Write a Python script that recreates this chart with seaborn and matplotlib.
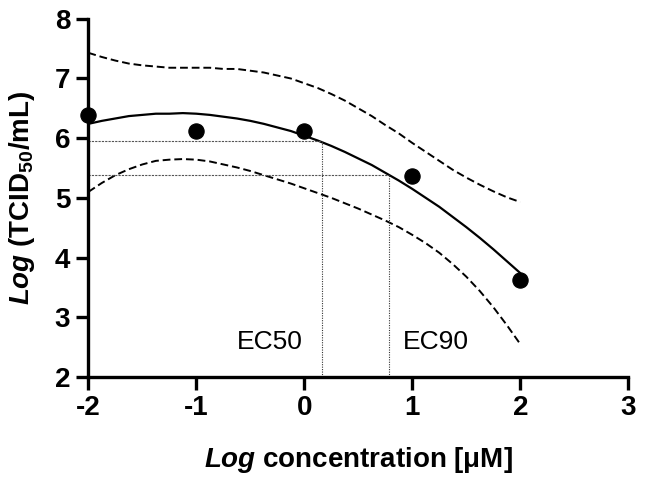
import pandas as pd
import seaborn as sns
import matplotlib
matplotlib.use('Agg')
import matplotlib.pyplot as plt

# measured points
conc = [-2, -1, 0, 1, 2]
titer = [6.38, 6.12, 6.12, 5.37, 3.62]

# fitted curve and confidence band
curve_x = [-2, -1.875, -1.75, -1.625, -1.5, -1.375, -1.25, -1.125, -1,
           -0.875, -0.75, -0.625, -0.5, -0.375, -0.25, -0.125, 0,
           0.125, 0.25, 0.375, 0.5, 0.625, 0.75, 0.875, 1,
           1.125, 1.25, 1.375, 1.5, 1.625, 1.75, 1.875, 2]
fit_y = [6.24, 6.29, 6.33, 6.37, 6.39, 6.41, 6.41, 6.42, 6.41,
         6.39, 6.36, 6.33, 6.29, 6.24, 6.18, 6.12, 6.04,
         5.96, 5.87, 5.77, 5.66, 5.55, 5.42, 5.29, 5.15,
         5.00, 4.85, 4.68, 4.51, 4.33, 4.14, 3.94, 3.74]
upper_y = [7.43, 7.36, 7.30, 7.25, 7.22, 7.20, 7.18, 7.18, 7.18,
           7.18, 7.16, 7.16, 7.13, 7.10, 7.05, 7.00, 6.92,
           6.84, 6.74, 6.63, 6.50, 6.37, 6.22, 6.08, 5.92,
           5.77, 5.62, 5.47, 5.34, 5.22, 5.11, 5.01, 4.93]
lower_y = [5.10, 5.25, 5.38, 5.48, 5.56, 5.62, 5.64, 5.65, 5.64,
           5.61, 5.56, 5.51, 5.45, 5.38, 5.31, 5.24, 5.16,
           5.08, 5.00, 4.91, 4.82, 4.72, 4.62, 4.51, 4.38,
           4.24, 4.08, 3.89, 3.68, 3.44, 3.17, 2.87, 2.55]

# EC values
ec_names = ['EC50', 'EC90']
ec_x = [0.165, 0.78]
ec_y = [5.96, 5.38]
ec_label_x = [-0.32, 1.22]

sns.set_style('ticks')
plt.rcParams['font.family'] = ['Liberation Sans', 'DejaVu Sans']
plt.rcParams['axes.unicode_minus'] = False
plt.rcParams['text.color'] = 'black'
plt.rcParams['axes.labelcolor'] = 'black'
plt.rcParams['xtick.color'] = 'black'
plt.rcParams['ytick.color'] = 'black'
plt.rcParams['axes.edgecolor'] = 'black'
plt.rcParams['mathtext.fontset'] = 'custom'
plt.rcParams['mathtext.rm'] = 'Liberation Sans:bold'
plt.rcParams['mathtext.bf'] = 'Liberation Sans:bold'
plt.rcParams['mathtext.bfit'] = 'Liberation Sans:bold:italic'
plt.rcParams['mathtext.it'] = 'Liberation Sans:bold:italic'

fig = plt.figure(figsize=(6.45, 4.82), dpi=100)
ax = fig.add_axes([0.137, 0.218, 0.837, 0.743])

df_curve = pd.DataFrame({'x': curve_x, 'fit': fit_y, 'upper': upper_y, 'lower': lower_y})

sns.lineplot(data=df_curve, x='x', y='fit', color='black', lw=1.6, ax=ax)
sns.lineplot(data=df_curve, x='x', y='upper', color='black', lw=1.4, ax=ax)
sns.lineplot(data=df_curve, x='x', y='lower', color='black', lw=1.4, ax=ax)
ax.lines[1].set_dashes((4, 2))
ax.lines[2].set_dashes((4, 2))

# EC guide lines
for name, ex, ey, lx in zip(ec_names, ec_x, ec_y, ec_label_x):
    ax.plot([-2, ex], [ey, ey], color='#555555', lw=0.8, ls=(0, (2, 1)))
    ax.plot([ex, ex], [2, ey], color='#333333', lw=0.8, ls=(0, (1, 1.2)))
    ax.text(lx, 2.58, name, ha='center', va='center', fontsize=19, color='black')

sns.scatterplot(x=conc, y=titer, color='black', s=120, edgecolor='black',
                ax=ax, zorder=5, clip_on=False)

ax.set_xlim(-2, 3)
ax.set_ylim(2, 8)
ax.set_xticks([-2, -1, 0, 1, 2, 3])
ax.set_yticks([2, 3, 4, 5, 6, 7, 8])
sns.despine(ax=ax)
for s in ['left', 'bottom']:
    ax.spines[s].set_linewidth(2.4)
ax.tick_params(width=2.4, length=9, labelsize=20, pad=4)
for lab in ax.get_xticklabels() + ax.get_yticklabels():
    lab.set_fontweight('bold')

ax.set_xlabel(r'$\mathbfit{Log}$ concentration [μM]', fontsize=20, fontweight='bold', labelpad=17)
ax.set_ylabel(r'$\mathbfit{Log}$ (TCID$_{50}$/mL)', fontsize=20, fontweight='bold', labelpad=13)

fig.savefig('out.png', dpi=100)
